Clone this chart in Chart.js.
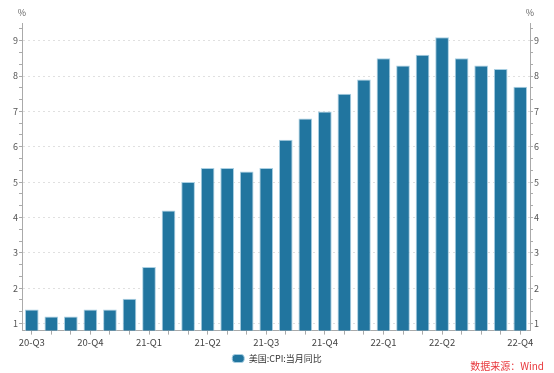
<!DOCTYPE html>
<html>
<head>
<meta charset="utf-8">
<script src="https://cdn.jsdelivr.net/npm/chart.js@4.4.0/dist/chart.umd.min.js"></script>
<style>
  html, body { margin: 0; padding: 0; background: #fff; }
  #wrap { width: 554px; height: 373px; }
</style>
</head>
<body>
<div id="wrap"><canvas id="mycanvas"></canvas></div>
<script>
// months, Sep 2020 .. Oct 2022
var months = ['2020-09','2020-10','2020-11','2020-12','2021-01','2021-02','2021-03','2021-04','2021-05',
  '2021-06','2021-07','2021-08','2021-09','2021-10','2021-11','2021-12','2022-01','2022-02','2022-03',
  '2022-04','2022-05','2022-06','2022-07','2022-08','2022-09','2022-10'];
// US CPI yoy (%)
var cpi = [1.4, 1.2, 1.2, 1.4, 1.4, 1.7, 2.6, 4.2, 5.0, 5.4, 5.4, 5.3, 5.4, 6.2, 6.8, 7.0, 7.5, 7.9,
  8.5, 8.3, 8.6, 9.1, 8.5, 8.3, 8.2, 7.7];
// x tick labels (blank = tick only)
var qLabels = ['20-Q3','','','20-Q4','','','21-Q1','','','21-Q2','','','21-Q3','','','21-Q4','','',
  '22-Q1','','','22-Q2','','','','22-Q4'];

var yMin = 0.8, yMax = 9.5;
var fontFam = "'Noto Sans CJK SC', 'Open Sans', sans-serif";

function isInt(v) { return Math.abs(v - Math.round(v)) < 1e-6; }

// major ticks at integers, minor every 1/3
function setTicks(scale) {
  var t = [];
  for (var k = 3; k <= 28; k++) t.push({ value: k / 3 });
  scale.ticks = t;
}

function yAxis(pos, w) {
  return {
    position: pos,
    min: yMin,
    max: yMax,
    afterBuildTicks: setTicks,
    afterFit: function(s) { s.width = w; },
    border: { color: '#aaa', width: 1, dash: [2, 3] },
    grid: {
      drawOnChartArea: pos === 'left',
      color: function(c) { return c.tick && isInt(c.tick.value) ? '#e0e0e0' : 'rgba(0,0,0,0)'; },
      tickColor: '#aaa',
      tickBorderDash: [],
      tickLength: 3
    },
    ticks: {
      autoSkip: false,
      padding: 1,
      color: '#555',
      font: { family: fontFam, size: 9 },
      callback: function(v) { return isInt(v) ? Math.round(v) : ''; }
    }
  };
}

var extras = {
  id: 'extras',
  afterDraw: function(chart) {
    var ctx = chart.ctx, a = chart.chartArea;
    ctx.save();
    ctx.font = '9px ' + fontFam;
    ctx.fillStyle = '#666';
    ctx.textAlign = 'center';
    ctx.textBaseline = 'middle';
    ctx.fillText('%', a.left, 13);
    ctx.fillText('%', a.right, 13);
    ctx.font = '10px ' + fontFam;
    ctx.fillStyle = '#e8383d';
    ctx.textAlign = 'right';
    ctx.fillText('数据来源：Wind', 544, 366);
    ctx.restore();
  }
};

var chartdata = {
  labels: months,
  datasets: [{
    label: '美国:CPI:当月同比',
    data: cpi,
    backgroundColor: '#21759f',
    borderColor: '#a9cfe2',
    borderWidth: 1,
    categoryPercentage: 1.0,
    barPercentage: 0.7,
    yAxisID: 'y'
  }]
};

new Chart(document.getElementById('mycanvas'), {
  type: 'bar',
  data: chartdata,
  plugins: [extras],
  options: {
    responsive: true,
    maintainAspectRatio: false,
    animation: false,
    layout: { padding: { top: 23, bottom: 0, left: 0, right: 0 } },
    plugins: {
      tooltip: { enabled: false },
      legend: {
        position: 'bottom',
        labels: {
          boxWidth: 12,
          boxHeight: 8,
          useBorderRadius: true,
          borderRadius: 3,
          padding: 4,
          color: '#333',
          font: { family: fontFam, size: 9 }
        }
      }
    },
    scales: {
      x: {
        offset: true,
        border: { color: '#aaa', width: 1 },
        grid: { offset: false, drawOnChartArea: false, tickColor: '#aaa', tickLength: 4 },
        ticks: {
          autoSkip: false,
          maxRotation: 0,
          padding: 2,
          color: '#444',
          font: { family: fontFam, size: 9.5 },
          callback: function(v, i) { return qLabels[i]; }
        }
      },
      y: yAxis('left', 22),
      y2: yAxis('right', 24)
    }
  }
});
</script>
</body>
</html>
